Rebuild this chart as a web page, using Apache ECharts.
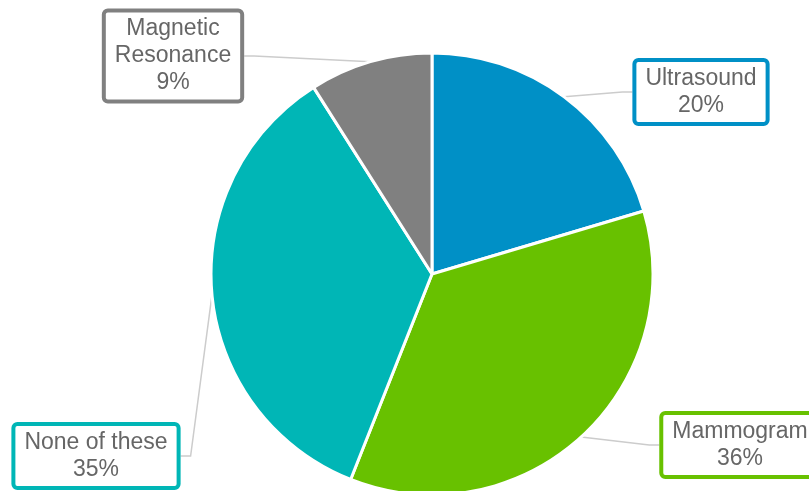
<!DOCTYPE html>
<html>
<head>
<meta charset="utf-8">
<script src="https://cdn.jsdelivr.net/npm/echarts@6/dist/echarts.min.js"></script>
<style>html,body{margin:0;padding:0;background:#fff}#c{width:809px;height:491px}</style>
</head>
<body>
<div id="c"></div>
<script>
var categories = ['Ultrasound', 'Mammogram', 'None of these', 'Magnetic Resonance'];
var values = [20.4, 35.6, 35.0, 9.0];
var colors = ['#0090C6', '#68C100', '#00B6B6', '#808080'];
var labelPos = [[701, 92], [740, 445], [96, 456], [173, 56]];

var chart = echarts.init(document.getElementById('c'));
chart.setOption({
  animation: false,
  series: [{
    type: 'pie',
    center: [432, 274],
    radius: 221,
    startAngle: 90,
    clockwise: true,
    percentPrecision: 0,
    avoidLabelOverlap: false,
    data: categories.map(function (c, i) {
      return {
        name: c, value: values[i],
        itemStyle: { color: colors[i] },
        label: { borderColor: colors[i] }
      };
    }),
    itemStyle: { borderColor: '#fff', borderWidth: 3 },
    label: {
      show: true,
      position: 'outside',
      formatter: function (p) {
        var n = p.name.length > 15 ? p.name.replace(' ', '\n') : p.name;
        return n + '\n' + p.percent + '%';
      },
      color: '#666',
      fontFamily: 'Liberation Sans, Arial, sans-serif',
      fontSize: 23,
      lineHeight: 27,
      align: 'center',
      backgroundColor: '#fff',
      borderWidth: 4,
      borderRadius: 2,
      padding: [3, 9]
    },
    labelLine: {
      show: true,
      length: 20,
      length2: 10,
      lineStyle: { color: '#ccc', width: 1.5 }
    },
    labelLayout: function (params) {
      var p = labelPos[params.dataIndex];
      return { x: p[0], y: p[1], align: 'center', verticalAlign: 'middle' };
    }
  }]
});
</script>
</body>
</html>
